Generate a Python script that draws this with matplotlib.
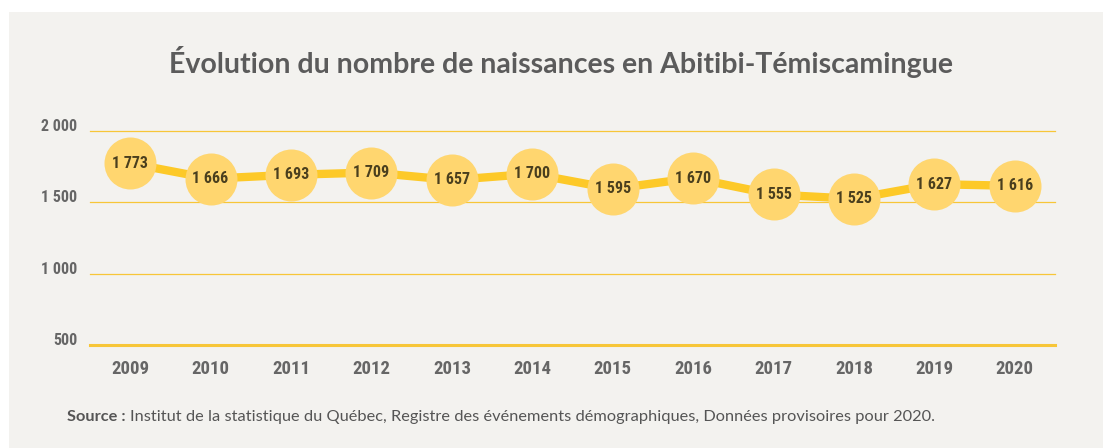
import matplotlib
matplotlib.use("Agg")
import matplotlib.pyplot as plt
from matplotlib.patches import Rectangle
from matplotlib import font_manager

years = ["2009", "2010", "2011", "2012", "2013", "2014",
         "2015", "2016", "2017", "2018", "2019", "2020"]
births = [1773, 1666, 1693, 1709, 1657, 1700, 1595, 1670, 1555, 1525, 1627, 1616]
ytick_vals = [500, 1000, 1500, 2000]
ytick_labels = ["500", "1 000", "1 500", "2 000"]

title = "Évolution du nombre de naissances en Abitibi-Témiscamingue"
source = ("Institut de la statistique du Québec, Registre des événements "
          "démographiques, Données provisoires pour 2020.")

# narrow face for the numbers
names = {f.name for f in font_manager.fontManager.ttflist}
if "Roboto Condensed" in names:
    narrow = dict(family="Roboto Condensed")
else:
    narrow = dict(family="DejaVu Sans", fontstretch="condensed")

W, H = 1103, 448
fig = plt.figure(figsize=(W / 100, H / 100), dpi=100, facecolor="white")
fig.patches.append(Rectangle((9 / W, 0), 1, (H - 12) / H, transform=fig.transFigure,
                             facecolor="#f3f2ef", edgecolor="none", zorder=-5))

ax = fig.add_axes([90 / W, (H - 345) / H, (1055 - 90) / W, (345 - 131) / H])
ax.set_zorder(2)
ax.set_facecolor("none")
x = list(range(len(years)))
ax.set_xlim(-0.5, len(years) - 0.5)
ax.set_ylim(500, 2000)

for v in ytick_vals:
    lw = 2.2 if v == 500 else 0.9
    ax.axhline(v, color="#f7c638", lw=lw, zorder=1, clip_on=False)

ax.plot(x, births, color="#fdc928", lw=6, zorder=2, clip_on=False, solid_capstyle="butt")
ax.scatter(x, births, s=(52 * 0.72) ** 2, color="#ffd66f", zorder=3, clip_on=False,
           linewidths=0)
for xi, v in zip(x, births):
    lab = f"{v:,}".replace(",", " ")
    ax.text(xi, v, lab, ha="center", va="center", fontsize=11.5, fontweight="bold",
            color="#4a3f1e", zorder=4, **narrow)

for s in ax.spines.values():
    s.set_visible(False)
ax.tick_params(length=0)
ax.set_xticks(x)
ax.set_xticklabels(years, fontsize=13.5, fontweight="bold", color="#666666", **narrow)
ax.tick_params(axis="x", pad=11)
ax.set_yticks(ytick_vals)
ax.set_yticklabels(ytick_labels, fontsize=11.5, fontweight="bold", color="#666666", **narrow)
ax.tick_params(axis="y", pad=9)
for t in ax.get_yticklabels():
    t.set_verticalalignment("baseline")

fig.text(561 / W, (H - 62) / H, title, ha="center", va="center", fontsize=20.5,
         fontweight="bold", family="Lato", color="#5b5b5b")
t1 = fig.text(67 / W, (H - 417) / H, "Source : ", ha="left", va="center", fontsize=11.8,
              fontweight="bold", family="Lato", color="#555555")
fig.canvas.draw()
bb = t1.get_window_extent()
fig.text(bb.x1 / W, (H - 417) / H, source, ha="left", va="center", fontsize=11.8,
         family="Lato", color="#555555")

fig.savefig("out.png", dpi=100, facecolor="white")
